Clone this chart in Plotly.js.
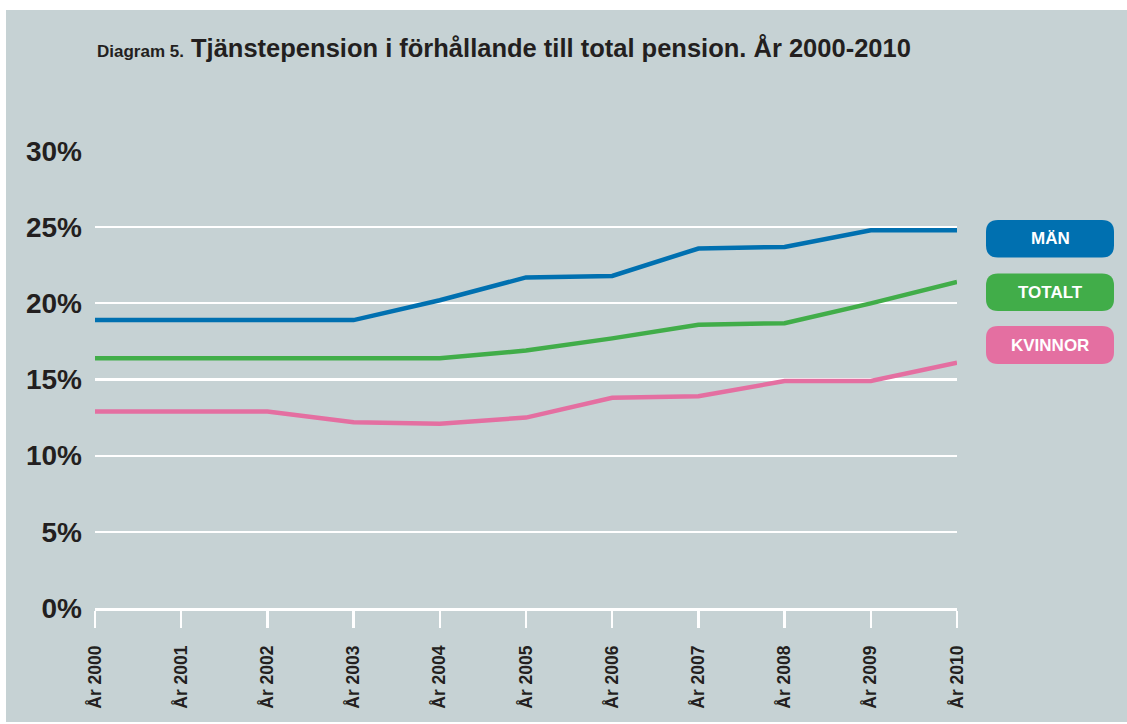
<!DOCTYPE html>
<html>
<head>
<meta charset="utf-8">
<script src="https://cdn.plot.ly/plotly-3.0.1.min.js"></script>
<style>
html, body { margin:0; padding:0; background:#ffffff; width:1127px; height:724px; overflow:hidden; }
#chart { position:absolute; left:6px; top:10px; width:1121px; height:712px; }
</style>
</head>
<body>
<div id="chart"></div>
<script>
const years = [2000, 2001, 2002, 2003, 2004, 2005, 2006, 2007, 2008, 2009, 2010];
const yearLabels = ["År 2000","År 2001","År 2002","År 2003","År 2004","År 2005","År 2006","År 2007","År 2008","År 2009","År 2010"];
const man     = [18.9, 18.9, 18.9, 18.9, 20.2, 21.7, 21.8, 23.6, 23.7, 24.8, 24.8];
const totalt  = [16.4, 16.4, 16.4, 16.4, 16.4, 16.9, 17.7, 18.6, 18.7, 20.0, 21.4];
const kvinnor = [12.9, 12.9, 12.9, 12.2, 12.1, 12.5, 13.8, 13.9, 14.9, 14.9, 16.1];
const yTicks = [0, 5, 10, 15, 20, 25, 30];
const yTickLabels = ["0%", "5%", "10%", "15%", "20%", "25%", "30%"];
const seriesNames = ["MÄN", "TOTALT", "KVINNOR"];
const seriesColors = ["#0070b0", "#41ad49", "#e46fa1"];

const BG = "#c6d2d4";
const TXT = "#231f20";
const FONT = "Liberation Sans, Arial, sans-serif";

// plot area in page pixels (div is offset by 6,10)
const PX0 = 95, PX1 = 957, PY0 = 608, PY1 = 151;
const fx = p => (p - PX0) / (PX1 - PX0);
const fy = p => (PY0 - p) / (PY0 - PY1);

const seriesData = [man, totalt, kvinnor];
const traces = seriesData.map((d, i) => ({
  x: years, y: d, type: "scatter", mode: "lines", name: seriesNames[i],
  line: {color: seriesColors[i], width: 4.5}, hoverinfo: "skip"
}));

function roundRect(x0, y0, x1, y1, r) {
  const X0 = fx(x0), X1 = fx(x1), Y0 = fy(y0), Y1 = fy(y1);
  const rx = r / (PX1 - PX0), ry = r / (PY0 - PY1);
  return `M ${X0+rx},${Y0} L ${X1-rx},${Y0} Q ${X1},${Y0} ${X1},${Y0-ry} L ${X1},${Y1+ry} Q ${X1},${Y1} ${X1-rx},${Y1} L ${X0+rx},${Y1} Q ${X0},${Y1} ${X0},${Y1+ry} L ${X0},${Y0-ry} Q ${X0},${Y0} ${X0+rx},${Y0} Z`;
}

const legendBoxes = [[220, 257.5], [273.5, 311], [326, 364]];
const shapes = legendBoxes.map((b, i) => ({
  type: "path", xref: "paper", yref: "paper",
  path: roundRect(986, b[0], 1114, b[1], 12),
  fillcolor: seriesColors[i], line: {width: 0}, layer: "above"
}));
const annotations = legendBoxes.map((b, i) => ({
  xref: "paper", yref: "paper", x: fx(1050), y: fy((b[0] + b[1]) / 2),
  xanchor: "center", yanchor: "middle", showarrow: false,
  text: "<b>" + seriesNames[i] + "</b>",
  font: {family: FONT, size: 17, color: "#ffffff"}
}));
annotations.push({
  xref: "paper", yref: "paper", x: fx(95), y: fy(48), xanchor: "left", yanchor: "middle",
  showarrow: false,
  text: "<b><span style='font-size:17px'>Diagram 5.</span> Tjänstepension i förhållande till total pension. År 2000-2010</b>",
  font: {family: FONT, size: 25.5, color: TXT}
});

const layout = {
  width: 1121, height: 712,
  paper_bgcolor: BG, plot_bgcolor: BG,
  margin: {l: PX0 - 6, r: 1127 - PX1, t: PY1 - 10, b: 722 - PY0, pad: 0},
  showlegend: false,
  xaxis: {
    range: [2000, 2010], tickvals: years, ticktext: yearLabels,
    tickangle: -90, showgrid: false, zeroline: false,
    showline: true, linecolor: "#ffffff", linewidth: 2.5,
    ticks: "outside", ticklen: 17, tickwidth: 2.5, tickcolor: "#ffffff",
    ticklabelstandoff: 11,
    tickfont: {family: FONT, size: 17.5, color: TXT, weight: "bold"},
    fixedrange: true
  },
  yaxis: {
    range: [0, 30], tickvals: yTicks, ticktext: yTickLabels,
    showgrid: true, gridcolor: "#ffffff", gridwidth: 2.2, zeroline: false,
    showline: false, ticks: "", ticklabelstandoff: 12,
    tickfont: {family: FONT, size: 28, color: TXT, weight: "bold"},
    fixedrange: true
  },
  shapes: shapes,
  annotations: annotations
};

Plotly.newPlot("chart", traces, layout, {displayModeBar: false, staticPlot: true});
</script>
</body>
</html>
